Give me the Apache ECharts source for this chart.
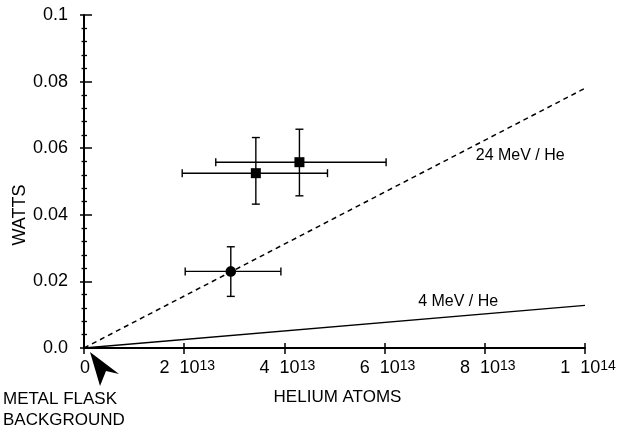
<!DOCTYPE html>
<html>
<head>
<meta charset="utf-8">
<script src="https://cdn.jsdelivr.net/npm/echarts@6/dist/echarts.min.js"></script>
<style>html,body{margin:0;padding:0;background:#fff;}#c{width:620px;height:432px;}</style>
</head>
<body>
<div id="c"></div>
<script>
// ---- data ----
var xTickLabels = ['{z|0}', '2  10{s|13}', '4  10{s|13}', '6  10{s|13}', '8  10{s|13}', '1  10{s|14}'];
var yTickLabels = ['0.0', '0.02', '0.04', '0.06', '0.08', '0.1'];
var heliumAtoms = [2.93e13, 3.43e13, 4.30e13];
var watts = [0.0230, 0.0525, 0.0558];
var atomsLow = [2.02e13, 1.96e13, 2.63e13];
var atomsHigh = [3.93e13, 4.86e13, 6.03e13];
var wattsLow = [0.0155, 0.0432, 0.0457];
var wattsHigh = [0.0304, 0.0632, 0.0657];
var markerShape = ['circle', 'square', 'square'];
var lineX = [0, 1e14];
var line24MeV = [0, 0.078];
var line4MeV = [0, 0.0128];
var label24Pos = [7.82e13, 0.0577];
var label4Pos = [6.67e13, 0.0139];

var font = 'Liberation Sans, Arial, Helvetica, sans-serif';
var pts = heliumAtoms.map(function (x, i) {
  return [x, watts[i], atomsLow[i], atomsHigh[i], wattsLow[i], wattsHigh[i], markerShape[i] === 'circle' ? 0 : 1];
});

var chart = echarts.init(document.getElementById('c'), null, {renderer: 'canvas'});
var axisCommonX = {
  type: 'value', min: 0, max: 1e14, interval: 2e13, position: 'bottom',
  splitLine: {show: false}
};
var axisCommonY = {
  type: 'value', min: 0, max: 0.1, interval: 0.02, position: 'left',
  splitLine: {show: false}
};
chart.setOption({
  backgroundColor: '#fff',
  animation: false,
  textStyle: {fontFamily: font, color: '#000'},
  grid: {left: 84, right: 35, top: 15, bottom: 84},
  xAxis: [
    Object.assign({}, axisCommonX, {
      name: 'HELIUM ATOMS', nameLocation: 'middle', nameGap: 41,
      nameTextStyle: {fontSize: 17, color: '#000', fontFamily: font, padding: [0, 0, 0, 6]},
      axisLine: {show: true, lineStyle: {color: '#000', width: 2}},
      axisTick: {show: true, inside: false, length: 6, lineStyle: {color: '#000', width: 1.5}},
      axisLabel: {
        show: true, margin: 11, fontSize: 18, color: '#000', fontFamily: font, padding: [0, 0, 0, 6],
        formatter: function (v, i) { return xTickLabels[Math.round(v / 2e13)]; },
        rich: {
          s: {fontSize: 14, color: '#000', fontFamily: font, verticalAlign: 'top', lineHeight: 12, padding: [0, 0, 6, 0]},
          z: {fontSize: 18, color: '#000', fontFamily: font, padding: [0, 4, 0, 0]}
        }
      }
    }),
    Object.assign({}, axisCommonX, {
      axisLine: {show: false},
      axisTick: {show: true, inside: true, length: 5, lineStyle: {color: '#000', width: 1.5}},
      axisLabel: {show: false}
    })
  ],
  yAxis: [
    Object.assign({}, axisCommonY, {
      axisLine: {show: true, lineStyle: {color: '#000', width: 2}},
      axisTick: {show: true, inside: false, length: 4, lineStyle: {color: '#000', width: 1.5}},
      minorTick: {show: true, splitNumber: 5, length: 2.5, lineStyle: {color: '#000', width: 1.3}},
      axisLabel: {
        show: true, margin: 16, fontSize: 18, color: '#000', fontFamily: font,
        formatter: function (v) { return yTickLabels[Math.round(v / 0.02)]; }
      }
    }),
    Object.assign({}, axisCommonY, {
      axisLine: {show: false},
      axisTick: {show: true, inside: true, length: 8, lineStyle: {color: '#000', width: 1.5}},
      minorTick: {show: true, splitNumber: 5, length: 3, lineStyle: {color: '#000', width: 1.3}},
      axisLabel: {show: false}
    })
  ],
  series: [
    {
      name: '24 MeV / He', type: 'line', xAxisIndex: 0, yAxisIndex: 0,
      data: lineX.map(function (x, i) { return [x, line24MeV[i]]; }),
      symbol: 'none', lineStyle: {color: '#000', width: 1.5, type: [5, 4]},
      markPoint: {
        symbol: 'circle', symbolSize: 0,
        data: [{coord: label24Pos, value: '24 MeV / He'}],
        label: {show: true, position: 'right', distance: 0, formatter: '24 MeV / He', fontSize: 16, color: '#000', fontFamily: font}
      }
    },
    {
      name: '4 MeV / He', type: 'line', xAxisIndex: 0, yAxisIndex: 0,
      data: lineX.map(function (x, i) { return [x, line4MeV[i]]; }),
      symbol: 'none', lineStyle: {color: '#000', width: 1.3},
      markPoint: {
        symbol: 'circle', symbolSize: 0,
        data: [{coord: label4Pos, value: '4 MeV / He'}],
        label: {show: true, position: 'right', distance: 0, formatter: '4 MeV / He', fontSize: 16, color: '#000', fontFamily: font}
      }
    },
    {
      name: 'data', type: 'custom', xAxisIndex: 0, yAxisIndex: 0,
      data: pts,
      encode: {x: [0, 2, 3], y: [1, 4, 5]},
      renderItem: function (params, api) {
        var c = api.coord([api.value(0), api.value(1)]);
        var xl = api.coord([api.value(2), api.value(1)]);
        var xh = api.coord([api.value(3), api.value(1)]);
        var yl = api.coord([api.value(0), api.value(4)]);
        var yh = api.coord([api.value(0), api.value(5)]);
        var cap = 4;
        var st = {stroke: '#000', lineWidth: 1.4, fill: null};
        var kids = [
          {type: 'line', shape: {x1: xl[0], y1: c[1], x2: xh[0], y2: c[1]}, style: st},
          {type: 'line', shape: {x1: xl[0], y1: c[1] - cap, x2: xl[0], y2: c[1] + cap}, style: st},
          {type: 'line', shape: {x1: xh[0], y1: c[1] - cap, x2: xh[0], y2: c[1] + cap}, style: st},
          {type: 'line', shape: {x1: c[0], y1: yl[1], x2: c[0], y2: yh[1]}, style: st},
          {type: 'line', shape: {x1: c[0] - cap, y1: yl[1], x2: c[0] + cap, y2: yl[1]}, style: st},
          {type: 'line', shape: {x1: c[0] - cap, y1: yh[1], x2: c[0] + cap, y2: yh[1]}, style: st}
        ];
        if (api.value(6) === 0) {
          kids.push({type: 'circle', shape: {cx: c[0], cy: c[1], r: 5.3}, style: {fill: '#000'}});
        } else {
          kids.push({type: 'rect', shape: {x: c[0] - 5, y: c[1] - 5, width: 10, height: 10}, style: {fill: '#000'}});
        }
        return {type: 'group', children: kids};
      }
    }
  ],
  graphic: [
    {type: 'polygon', shape: {points: [[90, 352], [119, 374], [106, 371], [100, 386]]}, style: {fill: '#000'}},
    {type: 'text', left: 3, top: 389, style: {text: 'METAL FLASK\nBACKGROUND', fontSize: 17, lineHeight: 21, fill: '#000', fontFamily: font}},
    {type: 'text', x: 20, y: 215, rotation: Math.PI / 2, style: {text: 'WATTS', fontSize: 18, fill: '#000', fontFamily: font, align: 'center', verticalAlign: 'middle'}}
  ]
});
</script>
</body>
</html>
